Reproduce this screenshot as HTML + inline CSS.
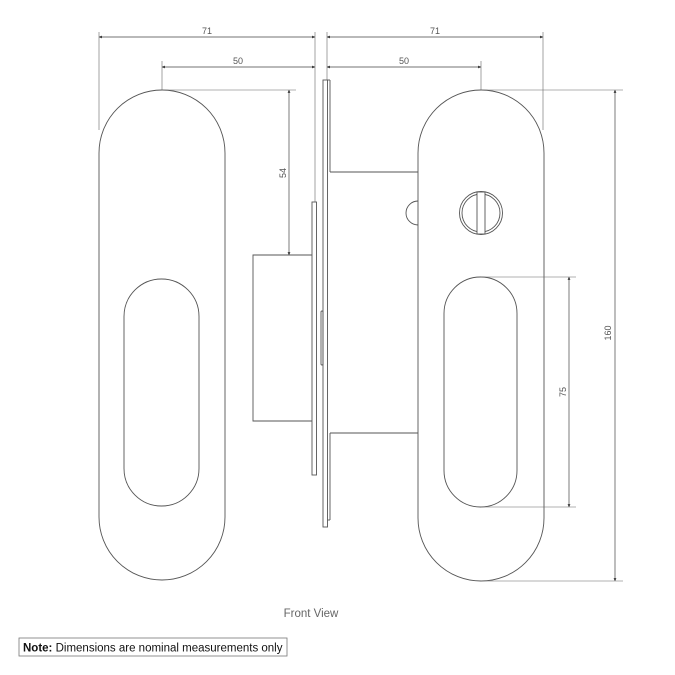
<!DOCTYPE html>
<html><head><meta charset="utf-8"><style>
html,body{margin:0;padding:0;background:#fff;width:675px;height:675px;overflow:hidden}
</style></head><body>
<svg width="675" height="675" viewBox="0 0 675 675" xmlns="http://www.w3.org/2000/svg" font-family="Liberation Sans, sans-serif">
<defs>
<marker id="a" viewBox="0 0 10 10" refX="10" refY="5" markerWidth="6" markerHeight="4" orient="auto-start-reverse"><path d="M0,0 L10,5 L0,10 z" fill="#222"/></marker>
</defs>
<g fill="none" stroke="#555" stroke-width="0.9">
<!-- left plate -->
<rect x="99" y="90" width="126" height="490" rx="63" ry="63"/>
<rect x="124" y="279" width="75" height="227" rx="37.5" ry="37.5"/>
<!-- right plate -->
<rect x="418" y="90" width="126" height="491" rx="63" ry="63"/>
<rect x="444" y="277" width="73" height="230" rx="36.5" ry="36.5"/>
<!-- left body -->
<polyline points="312,255 253,255 253,421 312,421"/>
<rect x="312" y="202" width="4.5" height="273"/>
<!-- center strip -->
<rect x="323" y="80" width="4.5" height="447"/>
<line x1="327.5" y1="80" x2="330" y2="80"/>
<line x1="330" y1="80" x2="330" y2="172"/>
<line x1="330" y1="433" x2="330" y2="520"/>
<line x1="327.5" y1="520" x2="330" y2="520"/>
<rect x="321" y="311" width="2" height="54" rx="1"/>
<!-- right body -->
<polyline points="330,172 418,172"/>
<polyline points="330,433 418,433"/>
<!-- latch -->
<path d="M418,201 A12,12 0 0 0 418,225"/>
<!-- turn -->
<circle cx="481" cy="213" r="21.5"/>
<circle cx="481" cy="213" r="19"/>
<rect x="477" y="192" width="8" height="42" fill="#fff"/>
</g>
<g stroke="#666" stroke-width="0.6" fill="none">
<!-- 71 dims -->
<line x1="99" y1="32" x2="99" y2="130"/>
<line x1="315" y1="32" x2="315" y2="202"/>
<line x1="327" y1="32" x2="327" y2="80"/>
<line x1="543" y1="32" x2="543" y2="130"/>
<line x1="162" y1="61" x2="162" y2="90"/>
<line x1="481" y1="61" x2="481" y2="90"/>
<line x1="162" y1="90" x2="296" y2="90"/>
<line x1="481" y1="90" x2="623" y2="90"/>
<line x1="481" y1="581" x2="623" y2="581"/>
<line x1="481" y1="277" x2="576" y2="277"/>
<line x1="481" y1="507" x2="576" y2="507"/>
</g>
<g stroke="#444" stroke-width="0.7" marker-start="url(#a)" marker-end="url(#a)">
<line x1="99" y1="37" x2="315" y2="37"/>
<line x1="327" y1="37" x2="543" y2="37"/>
<line x1="162" y1="67" x2="315" y2="67"/>
<line x1="327" y1="67" x2="481" y2="67"/>
<line x1="289" y1="90" x2="289" y2="255"/>
<line x1="569" y1="277" x2="569" y2="507"/>
<line x1="615" y1="90" x2="615" y2="581"/>
</g>
<g fill="#555" font-size="9">
<text x="207" y="34" text-anchor="middle">71</text>
<text x="435" y="34" text-anchor="middle">71</text>
<text x="238" y="64" text-anchor="middle">50</text>
<text x="404" y="64" text-anchor="middle">50</text>
<text transform="translate(286,173) rotate(-90)" text-anchor="middle">54</text>
<text transform="translate(566,392) rotate(-90)" text-anchor="middle">75</text>
<text transform="translate(611,333) rotate(-90)" text-anchor="middle">160</text>
<text x="311" y="617" text-anchor="middle" font-size="11.5" fill="#666">Front View</text>
</g>
<rect x="19" y="638" width="268" height="18" fill="none" stroke="#777" stroke-width="0.8"/>
<text x="23" y="651.5" font-size="11.5" fill="#111"><tspan font-weight="bold">Note:</tspan> Dimensions are nominal measurements only</text>
</svg>
</body></html>
